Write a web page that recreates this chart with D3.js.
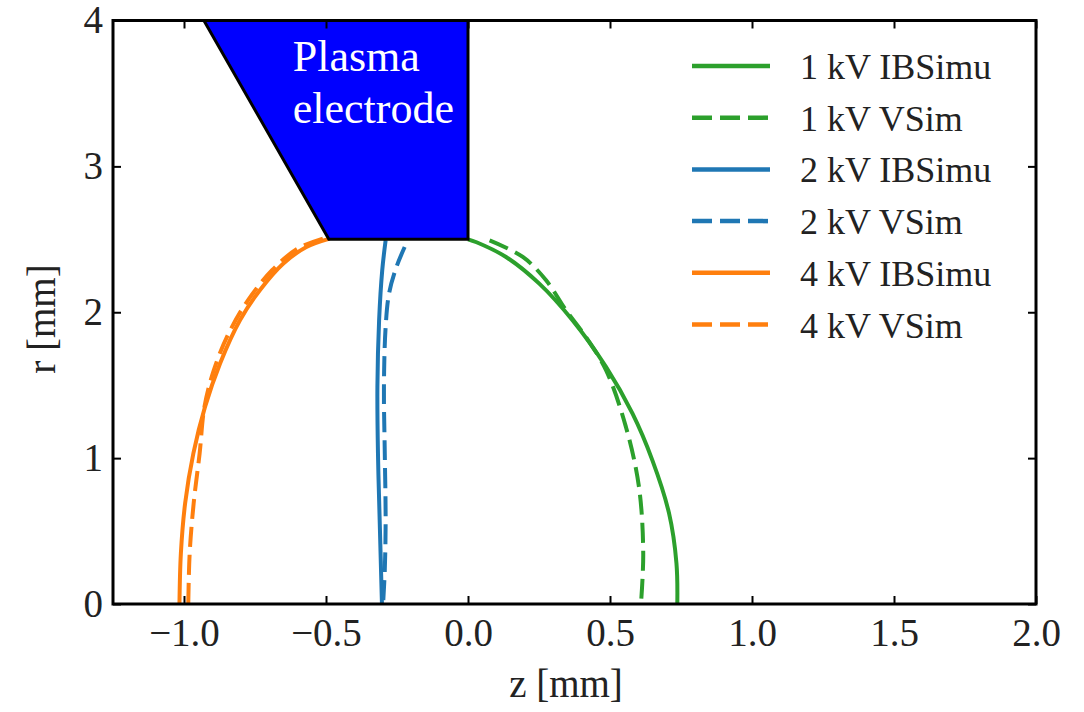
<!DOCTYPE html>
<html>
<head>
<meta charset="utf-8">
<script src="https://cdn.jsdelivr.net/npm/d3@7"></script>
<style>
  html, body { margin: 0; padding: 0; background: #fff; }
</style>
</head>
<body>
<svg id="chart" width="1084" height="712"></svg>
<script>
"use strict";

// beam boundaries, r as function of z
const ibsimu1kV_z = [0.00, 0.03, 0.134, 0.251, 0.368, 0.486, 0.579, 0.649, 0.708, 0.734, 0.737];
const ibsimu1kV_r = [2.50, 2.48, 2.379, 2.196, 1.945, 1.625, 1.306, 0.986, 0.621, 0.279, 0.00];
const vsim1kV_z   = [0.076, 0.193, 0.275, 0.345, 0.415, 0.486, 0.556, 0.602, 0.617, 0.609];
const vsim1kV_r   = [2.493, 2.379, 2.219, 2.014, 1.831, 1.603, 1.214, 0.803, 0.347, 0.00];

const ibsimu2kV_z = [-0.290, -0.302, -0.313, -0.319, -0.317, -0.311, -0.303];
const ibsimu2kV_r = [2.493, 2.288, 1.945, 1.488, 1.032, 0.575, 0.00];
const vsim2kV_z   = [-0.223, -0.252, -0.278, -0.290, -0.296, -0.293, -0.290, -0.293, -0.299];
const vsim2kV_r   = [2.447, 2.310, 2.128, 1.899, 1.488, 1.032, 0.575, 0.233, 0.00];

const ibsimu4kV_z = [-0.487, -0.569, -0.651, -0.733, -0.803, -0.873, -0.926, -0.967, -0.996, -1.011, -1.016];
const ibsimu4kV_r = [2.505, 2.447, 2.333, 2.151, 1.945, 1.649, 1.351, 1.032, 0.690, 0.347, 0.00];
const vsim4kV_z   = [-0.511, -0.600, -0.690, -0.775, -0.843, -0.895, -0.928, -0.945, -0.966, -0.980, -0.985];
const vsim4kV_r   = [2.505, 2.436, 2.288, 2.082, 1.854, 1.603, 1.351, 1.032, 0.690, 0.347, 0.00];

// plasma electrode outline (z, r)
const electrode_z = [-0.93, -0.49, 0.0, 0.0];
const electrode_r = [4.0, 2.5, 2.5, 4.0];

const xTicks = [-1.0, -0.5, 0.0, 0.5, 1.0, 1.5, 2.0];
const yTicks = [0, 1, 2, 3, 4];

const seriesNames = ["1 kV IBSimu", "1 kV VSim", "2 kV IBSimu", "2 kV VSim", "4 kV IBSimu", "4 kV VSim"];
const seriesColors = ["#2ca02c", "#2ca02c", "#1f77b4", "#1f77b4", "#ff7f0e", "#ff7f0e"];
const seriesDashed = [false, true, false, true, false, true];
const seriesZ = [ibsimu1kV_z, vsim1kV_z, ibsimu2kV_z, vsim2kV_z, ibsimu4kV_z, vsim4kV_z];
const seriesR = [ibsimu1kV_r, vsim1kV_r, ibsimu2kV_r, vsim2kV_r, ibsimu4kV_r, vsim4kV_r];

const FONT = '"Liberation Serif", "Times New Roman", serif';

const svg = d3.select("#chart");
const mLeft = 113, mRight = 1036, mTop = 20.5, mBottom = 604;

const x = d3.scaleLinear().domain([-1.25, 2.0]).range([mLeft, mRight]);
const y = d3.scaleLinear().domain([0, 4]).range([mBottom, mTop]);

function txt(sel, size, color) {
  return sel.style("font-family", FONT)
    .style("font-size", size + "px")
    .style("fill", color || "#222");
}

const plot = svg.append("g");

// curves
const line = d3.line()
  .x(d => x(d[0]))
  .y(d => y(d[1]))
  .curve(d3.curveCatmullRom.alpha(0.5));

seriesNames.forEach((name, i) => {
  const pts = seriesZ[i].map((z, j) => [z, seriesR[i][j]]);
  plot.append("path")
    .attr("d", line(pts))
    .attr("fill", "none")
    .attr("stroke", seriesColors[i])
    .attr("stroke-width", 4)
    .attr("stroke-dasharray", seriesDashed[i] ? "20,8" : null);
});

// electrode
const poly = electrode_z.map((z, j) => [x(z), y(electrode_r[j])]);
plot.append("path")
  .attr("d", "M" + poly.join("L") + "Z")
  .attr("fill", "#0000ff")
  .attr("stroke", "#000")
  .attr("stroke-width", 3)
  .attr("stroke-linejoin", "miter");

const label = txt(plot.append("text"), 44, "#fff");
label.append("tspan").attr("x", x(-0.617)).attr("y", 71).text("Plasma");
label.append("tspan").attr("x", x(-0.617)).attr("y", 123).text("electrode");

// axes: ticks inside on all four sides
function styleAxis(g) {
  g.attr("font-family", null).attr("font-size", null);
  g.select(".domain").remove();
  g.selectAll(".tick line").attr("stroke", "#000").attr("stroke-width", 2);
  txt(g.selectAll(".tick text"), 39);
}

svg.append("g")
  .attr("transform", `translate(0,${mBottom})`)
  .call(d3.axisBottom(x).tickValues(xTicks).tickSize(-8).tickPadding(14).tickFormat(d3.format(".1f")))
  .call(styleAxis);

svg.append("g")
  .attr("transform", `translate(0,${mTop})`)
  .call(d3.axisTop(x).tickValues(xTicks).tickSize(-8).tickFormat(""))
  .call(styleAxis);

svg.append("g")
  .attr("transform", `translate(${mLeft},0)`)
  .call(d3.axisLeft(y).tickValues(yTicks).tickSize(-8).tickPadding(10).tickFormat(d3.format("d")))
  .call(styleAxis);

svg.append("g")
  .attr("transform", `translate(${mRight},0)`)
  .call(d3.axisRight(y).tickValues(yTicks).tickSize(-8).tickFormat(""))
  .call(styleAxis);

// frame
svg.append("rect")
  .attr("x", mLeft).attr("y", mTop)
  .attr("width", mRight - mLeft).attr("height", mBottom - mTop)
  .attr("fill", "none").attr("stroke", "#000").attr("stroke-width", 3);

// axis labels
txt(svg.append("text"), 39)
  .attr("x", 566).attr("y", 697)
  .attr("text-anchor", "middle")
  .text("z [mm]");

txt(svg.append("text"), 39)
  .attr("transform", "translate(55,319) rotate(-90)")
  .attr("text-anchor", "middle")
  .text("r [mm]");

// legend
const legend = svg.append("g");
seriesNames.forEach((name, i) => {
  const ly = 66 + i * 51.7;
  legend.append("line")
    .attr("x1", 692).attr("x2", 770)
    .attr("y1", ly).attr("y2", ly)
    .attr("stroke", seriesColors[i])
    .attr("stroke-width", 4.5)
    .attr("stroke-dasharray", seriesDashed[i] ? "20,8" : null);
  txt(legend.append("text"), 36)
    .attr("x", 800).attr("y", ly + 13)
    .text(name);
});
</script>
</body>
</html>
